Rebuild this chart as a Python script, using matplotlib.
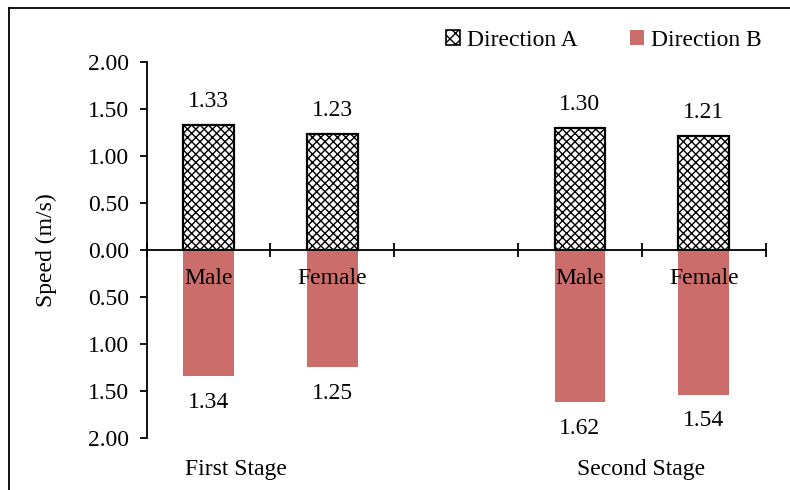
import matplotlib.pyplot as plt
from matplotlib.patches import Patch
from matplotlib.ticker import FuncFormatter
from matplotlib.lines import Line2D

plt.rcParams['font.family'] = ['Liberation Serif', 'DejaVu Serif']
plt.rcParams['hatch.linewidth'] = 1.0

# categories on the x axis (blank slot separates the two stages)
categories = ["Male", "Female", "", "Male", "Female"]
stages = ["First Stage", "Second Stage"]
stage_pos = [0.22, 3.49]

# speeds in m/s, None for the empty slot
direction_a = [1.33, 1.23, None, 1.30, 1.21]
direction_b = [1.34, 1.25, None, 1.62, 1.54]

RED = "#CB6E6B"
FS = 17

fig = plt.figure(figsize=(7.9, 4.9), dpi=100)
ax = fig.add_axes([0.1857, 0.1067, 0.7835, 0.7668])

xs = [i for i, v in enumerate(direction_a) if v is not None]
a_vals = [direction_a[i] for i in xs]
b_vals = [direction_b[i] for i in xs]

width = 0.41
ax.bar(xs, a_vals, width, color="white", edgecolor="black", linewidth=1.6,
       hatch="xxxx")
ax.bar(xs, [-v for v in b_vals], width, color=RED, edgecolor="none")

for x, a, b in zip(xs, a_vals, b_vals):
    ax.annotate(f"{a:.2f}", (x, a), xytext=(0, 17), textcoords="offset points",
                ha="center", va="center", fontsize=FS)
    ax.annotate(f"{b:.2f}", (x, -b), xytext=(0, -19), textcoords="offset points",
                ha="center", va="center", fontsize=FS)

# category names just below the zero line
for i, name in enumerate(categories):
    if name:
        ax.text(i, -0.30, name, ha="center", va="center", fontsize=FS)
for pos, name in zip(stage_pos, stages):
    ax.text(pos, -2.34, name, ha="center", va="center", fontsize=FS, clip_on=False)

ax.set_xlim(-0.5, len(categories) - 0.5)
ax.set_ylim(-2, 2)
ax.set_yticks([-2, -1.5, -1, -0.5, 0, 0.5, 1, 1.5, 2])
ax.yaxis.set_major_formatter(FuncFormatter(lambda v, p: f"{abs(v):.2f}"))
ax.tick_params(axis="y", direction="out", length=5, width=1.3, labelsize=FS, pad=8)
ax.set_ylabel("Speed (m/s)", fontsize=FS, labelpad=22)

ax.spines["bottom"].set_position(("data", 0))
ax.spines["bottom"].set_linewidth(1.3)
ax.spines["left"].set_linewidth(1.3)
ax.spines["top"].set_visible(False)
ax.spines["right"].set_visible(False)
ax.set_xticks([i - 0.5 for i in range(len(categories) + 1)])
ax.set_xticklabels([])
ax.tick_params(axis="x", direction="inout", length=10, width=1.3)

handles = [Patch(facecolor="white", edgecolor="black", hatch="xxx", linewidth=1.2,
                 label="Direction A"),
           Patch(facecolor=RED, edgecolor="none", label="Direction B")]
fig.legend(handles=handles, loc="center", bbox_to_anchor=(0.764, 0.918), ncol=2,
           frameon=False, fontsize=FS, handlelength=0.6, handleheight=0.6,
           handletextpad=0.3, columnspacing=2.2)

# outer chart border
fig.add_artist(Line2D([9 / 790, 9 / 790], [0, 1 - 8 / 490], color="black", lw=1.3))
fig.add_artist(Line2D([9 / 790, 1], [1 - 8 / 490, 1 - 8 / 490], color="black", lw=1.3))

fig.savefig("out.png", dpi=100)
